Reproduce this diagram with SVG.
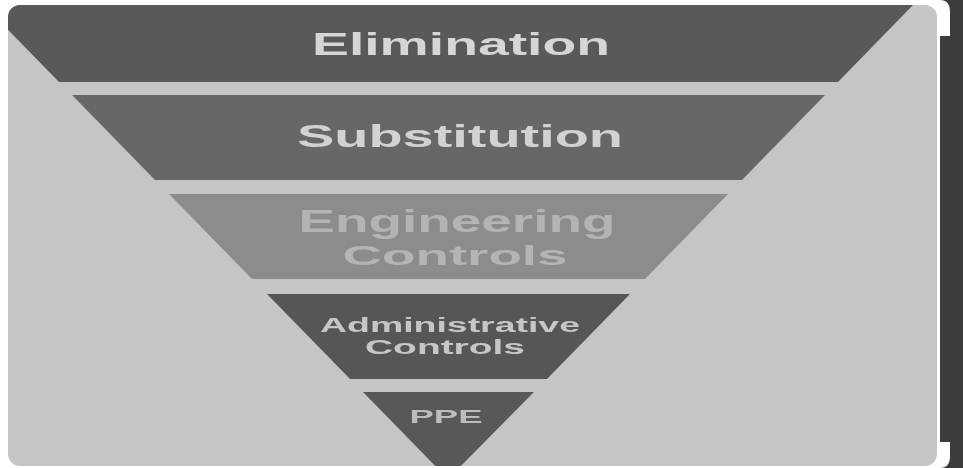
<svg xmlns="http://www.w3.org/2000/svg" width="963" height="468" viewBox="0 0 963 468">
<style>
.lbl{font-family:"Liberation Sans",Arial,sans-serif;font-weight:bold;text-anchor:middle}
</style>
<defs>
<clipPath id="panelClip"><rect x="8" y="5" width="929" height="461" rx="12"/></clipPath>
<filter id="soft"><feGaussianBlur stdDeviation="0.6"/></filter>
</defs>
<rect width="963" height="468" fill="#ffffff"/>
<rect x="940" y="0" width="23" height="468" fill="#3c3c3c"/>
<path d="M937,0 H940 Q950,0 950,12 V36 H937 Z" fill="#ffffff"/>
<path d="M937,442 H950 V456 Q950,468 940,468 H937 Z" fill="#ffffff"/>
<rect id="panel" x="8" y="5" width="929" height="461" rx="12" fill="#c5c5c5"/>
<g clip-path="url(#panelClip)">
<g id="elimination">
<polygon points="-16,5 913,5 838,82 59,82" fill="#595959"/>
<text class="lbl" x="461" y="55" font-size="32" fill="#d6d6d6" textLength="298" lengthAdjust="spacingAndGlyphs" filter="url(#soft)">Elimination</text>
</g>
<g id="substitution">
<polygon points="72,95 825,95 742,180 155,180" fill="#676767"/>
<text class="lbl" x="460" y="147" font-size="31" fill="#d2d2d2" textLength="326" lengthAdjust="spacingAndGlyphs" filter="url(#soft)">Substitution</text>
</g>
<g id="engineering">
<polygon points="169,194 728,194 645,279 252,279" fill="#8c8c8c"/>
<text class="lbl" x="457" y="232" font-size="31" fill="#b4b4b4" textLength="317" lengthAdjust="spacingAndGlyphs" filter="url(#soft)">Engineering</text>
<text class="lbl" x="455" y="265" font-size="28" fill="#b4b4b4" textLength="225" lengthAdjust="spacingAndGlyphs" filter="url(#soft)">Controls</text>
</g>
<g id="administrative">
<polygon points="267,294 630,294 547,379 350,379" fill="#565656"/>
<text class="lbl" x="450" y="332" font-size="20" fill="#c6c6c6" textLength="260" lengthAdjust="spacingAndGlyphs" filter="url(#soft)">Administrative</text>
<text class="lbl" x="445" y="354" font-size="19.5" fill="#c6c6c6" textLength="160" lengthAdjust="spacingAndGlyphs" filter="url(#soft)">Controls</text>
</g>
<g id="ppe">
<polygon points="363,392 534,392 448,479" fill="#585858"/>
<text class="lbl" x="446" y="423" font-size="18" fill="#bdbdbd" textLength="73" lengthAdjust="spacingAndGlyphs" filter="url(#soft)">PPE</text>
</g>
</g>
<g id="connectors"/>
</svg>
